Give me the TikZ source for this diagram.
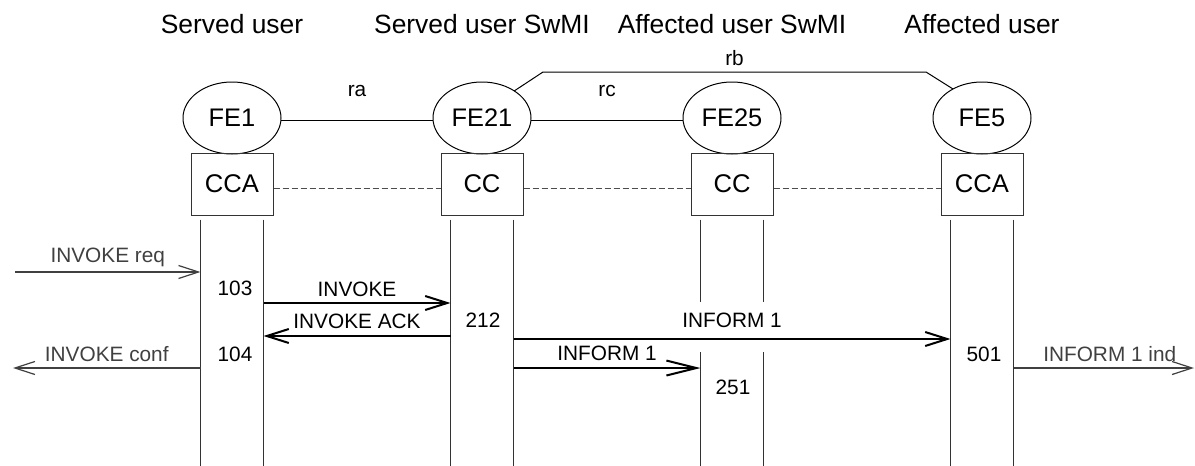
\documentclass[tikz,border=0pt]{standalone}
\usepackage{fontspec}
\setmainfont{Liberation Sans}
\usetikzlibrary{arrows.meta,positioning,shapes.geometric,calc}

\begin{document}
\begin{tikzpicture}[x=0.5pt,y=-0.5pt,node distance=125pt,
    fe node/.style={ellipse,draw,line width=0.5pt,minimum width=49pt,minimum height=36pt,
      inner sep=0pt,outer sep=0pt,font=\fontsize{12.7}{14}\selectfont},
    cc node/.style={rectangle,draw=black!80,line width=0.5pt,minimum width=41pt,minimum height=31pt,
      inner sep=0pt,font=\fontsize{12.8}{14}\selectfont},
    title node/.style={font=\fontsize{13.2}{15}\selectfont},
    lbl/.style={font=\fontsize{10.4}{12}\selectfont,inner sep=0pt},
    life/.style={black!80,line width=0.5pt},
    msg/.style={line width=1pt,-{Straight Barb[length=11pt,width=7pt]}},
    ext/.style={black!75,line width=0.6pt,-{Straight Barb[length=10pt,width=6.5pt]}},
    ref line/.style={line width=0.5pt}]

    \useasboundingbox (0,0) rectangle (1195,466);

    % functional entities
    \node[fe node] (FE1) at (232,118) {FE1};
    \node[fe node] (FE21) [right of=FE1] {FE21};
    \node[fe node] (FE25) [right of=FE21] {FE25};
    \node[fe node] (FE5) [right of=FE25] {FE5};

    \node[title node] (ServedUser) [above of=FE1,node distance=47pt] {Served user};
    \node[title node] (ServedSwMI) [above of=FE21,node distance=47pt] {Served user SwMI};
    \node[title node] (AffectedSwMI) [above of=FE25,node distance=47pt] {Affected user SwMI};
    \node[title node] (AffectedUser) [above of=FE5,node distance=47pt] {Affected user};

    \node[cc node] (CCA1) [below of=FE1,node distance=33pt] {CCA};
    \node[cc node] (CC21) [below of=FE21,node distance=33pt] {CC};
    \node[cc node] (CC25) [below of=FE25,node distance=33pt] {CC};
    \node[cc node] (CCA5) [below of=FE5,node distance=33pt] {CCA};

    % relationships
    \coordinate (rbA) at (543,72);
    \coordinate (rbB) at (926,72);
    \draw [ref line] ([yshift=-1pt]FE1.east) -- node[lbl,yshift=14.5pt] {ra} ([yshift=-1pt]FE21.west);
    \draw [ref line] ([yshift=-1pt]FE21.east) -- node[lbl,yshift=14.5pt] {rc} ([yshift=-1pt]FE25.west);
    \draw [ref line] (FE21.40) -- (rbA) -- node[lbl,yshift=7pt] {rb} (rbB) -- (FE5.135);

    \draw [black!70,line width=0.5pt,dash pattern=on 3pt off 1.5pt]
        ([yshift=-2pt]CCA1.east) -- ([yshift=-2pt]CC21.west)
        ([yshift=-2pt]CC21.east) -- ([yshift=-2pt]CC25.west)
        ([yshift=-2pt]CC25.east) -- ([yshift=-2pt]CCA5.west);

    % lifelines
    \coordinate (bottom) at (0,466);
    \coordinate (gapTop) at (0,302);
    \coordinate (gapBot) at (0,352);
    \foreach \cc in {CCA1,CC21,CC25,CCA5} {
      \coordinate (\cc-l) at ($(\cc.south)+(-31.5,4)$);
      \coordinate (\cc-r) at ($(\cc.south)+(31.5,4)$);
    }
    \foreach \cc in {CCA1,CC21,CCA5}
      \draw [life] (\cc-l) -- (\cc-l |- bottom) (\cc-r) -- (\cc-r |- bottom);
    \draw [life] (CC25-l) -- (CC25-l |- gapTop) (CC25-l |- gapBot) -- (CC25-l |- bottom)
                 (CC25-r) -- (CC25-r |- gapTop) (CC25-r |- gapBot) -- (CC25-r |- bottom);

    % message rows
    \coordinate (r1) at (0,272);
    \coordinate (r2) at (0,303);
    \coordinate (r3) at (0,336);
    \coordinate (r4) at (0,339);
    \coordinate (r5) at (0,368);
    \coordinate (reqIn) at (15,272);
    \coordinate (confOut) at (13,368);
    \coordinate (indOut) at (1194,368);

    \draw [ext] (reqIn) -- node[lbl,yshift=7.4pt] {INVOKE req} (CCA1-l |- r1);
    \draw [msg] (CCA1-r |- r2) -- node[lbl,yshift=7pt] {INVOKE} (CC21-l |- r2);
    \draw [msg] (CC21-l |- r3) -- node[lbl,yshift=7.5pt] {INVOKE ACK} (CCA1-r |- r3);
    \draw [msg] (CC21-r |- r4) -- node[lbl,yshift=9.5pt] {INFORM 1} (CCA5-l |- r4);
    \draw [ext] (CCA1-l |- r5) -- node[lbl,yshift=7pt] {INVOKE conf} (confOut);
    \draw [msg,-{Straight Barb[length=15pt,width=7.5pt]}] (CC21-r |- r5) -- node[lbl,yshift=7.5pt] {INFORM 1} (CC25-l |- r5);
    \draw [ext] (CCA5-r |- r5) -- node[lbl,yshift=7pt,xshift=3pt] {INFORM 1 ind} (indOut);

    % state numbers
    \node[lbl] (s103) at (235,288) {103};
    \node[lbl] (s104) at (235,354) {104};
    \node[lbl] (s212) at (483,320) {212};
    \node[lbl] (s251) at (733,387) {251};
    \node[lbl] (s501) at (984,354) {501};
\end{tikzpicture}
\end{document}
